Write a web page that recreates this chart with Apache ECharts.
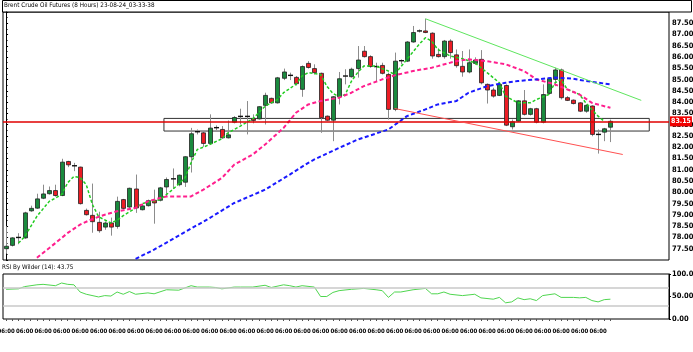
<!DOCTYPE html>
<html><head><meta charset="utf-8">
<script src="https://cdn.jsdelivr.net/npm/echarts@6/dist/echarts.min.js"></script>
<style>html,body{margin:0;padding:0;background:#fff}#c{width:693px;height:352px}</style>
</head><body><div id="c"></div>
<script>
// ---- data ----
const titleText = 'Brent Crude Oil Futures (8 Hours) 23-08-24_03-33-38';
const rsiTitle = 'RSI By Wilder (14): 43.75';
const lastPrice = 83.15;
const slotTimes = ['06:00', '14:00', '22:00'];
const slotCount = 108;

const opens = [77.50,77.65,77.97,77.98,79.18,79.30,79.74,79.94,80.08,79.86, 81.37,81.18,81.12,79.20,78.98,78.67,78.46,78.64,78.49,79.68, 79.35,80.15,79.23,79.41,79.65,79.65,80.24,80.60,80.34,80.45, 81.58,82.67,82.64,82.17,82.85,82.79,82.42,83.11,83.37,83.35, 83.26,83.26,83.86,84.17,83.97,85.06,85.19,85.10,84.57,85.72, 85.49,85.28,83.38,83.20,84.24,85.14,85.13,85.49,86.26,86.02, 85.58,85.63,85.23,83.68,85.82,85.82,86.67,87.16,87.16,87.06, 86.12,86.02,86.71,86.10,85.59,85.34,85.72,85.90,84.79,84.54, 84.30,84.74,82.91,83.16,84.06,83.46,83.71,83.11,84.39,85.01, 85.43,84.20,84.09,83.97,83.60,83.83,82.57,82.67,82.89];
const closes = [77.61,77.98,78.00,79.09,79.29,79.71,79.93,80.08,79.86,81.34, 81.22,81.16,79.50,79.01,78.70,78.30,78.64,78.46,79.60,79.29, 80.18,79.31,79.40,79.63,79.53,80.20,80.57,80.59,80.76,81.58, 82.60,82.69,82.17,82.85,82.87,82.42,82.55,83.32,83.35,83.37, 83.19,83.80,84.30,83.97,85.08,85.34,85.18,84.82,85.58,85.54, 85.31,83.31,83.20,84.24,85.04,85.16,85.46,85.87,86.02,85.58, 85.56,85.28,83.68,85.82,85.84,86.67,87.09,87.14,87.09,86.05, 86.02,86.71,86.20,85.62,85.34,85.75,85.87,84.86,84.54,84.27, 84.79,82.98,83.13,84.06,83.46,83.71,83.11,84.34,85.04,85.43, 84.20,84.08,83.94,83.60,83.86,82.57,82.55,82.82,83.15];
const highs = [78.50,78.01,78.19,79.14,79.41,79.94,80.34,80.26,80.34,81.49, 81.40,81.31,81.14,79.28,80.39,79.14,78.71,78.88,79.81,79.71, 80.21,80.79,79.46,79.68,80.12,80.24,80.66,81.06,80.79,81.60, 82.86,82.79,82.71,83.46,82.97,82.94,83.19,83.38,83.71,84.05, 83.46,83.82,84.42,84.20,85.12,85.49,85.31,85.16,85.63,85.82, 85.68,85.31,83.41,84.27,85.34,85.46,85.53,86.49,86.49,86.08, 85.75,85.75,85.31,86.20,85.90,86.71,87.38,87.23,87.70,87.10, 86.39,86.76,86.79,86.34,86.27,86.34,85.99,86.31,84.83,84.64, 84.86,84.79,83.23,84.09,84.54,83.75,83.75,84.79,85.09,85.53, 85.49,84.27,84.12,84.00,83.90,83.86,82.79,82.86,83.23];
const lows = [77.28,77.60,77.70,77.94,79.14,79.27,79.70,79.90,79.81,79.83, 81.12,80.94,79.46,78.97,78.21,78.21,78.34,78.08,78.39,79.26, 79.31,79.09,79.20,79.37,78.61,79.60,79.82,80.15,80.27,80.24, 80.88,82.57,82.02,82.12,82.76,82.38,82.39,83.06,83.01,82.57, 83.06,83.23,83.01,83.94,83.94,84.98,84.98,84.74,84.24,85.49, 85.23,82.64,83.16,82.27,83.90,84.79,85.09,85.09,85.98,85.53, 84.94,85.23,83.23,83.60,85.68,85.78,86.64,87.09,87.06,85.93, 85.98,85.93,85.93,85.53,85.13,85.28,85.66,84.79,83.94,84.20, 84.27,82.94,82.79,83.12,83.41,83.41,83.06,83.06,84.34,84.71, 84.12,84.05,83.90,83.56,83.53,82.49,81.72,82.27,82.23];

// moving averages read at sample candles: [candle index, price]
const maFast = [[2,77.75],[3,78.03],[5,78.94],[7,79.60],[9,79.90],[10,80.43],[11,80.71],[12,80.66],[13,80.34],[14,79.46],[15,78.92],[17,78.64],[18,78.76],[19,78.97],[21,79.30],[22,79.50],[25,79.68],[27,80.12],[29,80.64],[30,81.31],[31,81.90],[33,82.12],[35,82.38],[36,82.64],[38,82.94],[40,83.26],[42,83.82],[44,84.12],[45,84.42],[47,84.79],[48,85.16],[49,85.31],[51,85.23],[52,84.71],[53,84.39],[54,84.24],[55,84.34],[56,84.93],[57,85.31],[58,85.60],[60,85.60],[62,85.38],[63,85.23],[65,85.90],[67,86.57],[68,86.86],[69,86.71],[70,86.34],[72,86.05],[74,85.93],[76,85.75],[78,85.31],[80,84.86],[81,84.27],[83,83.97],[85,83.97],[86,84.12],[88,84.34],[89,84.86],[90,85.01],[91,84.57],[93,84.34],[94,83.97],[96,83.38],[97,83.15]];
const maMid = [[5,77.10],[7,77.53],[10,78.20],[12,78.57],[14,78.82],[16,79.01],[18,79.16],[21,79.31],[23,79.60],[26,79.82],[30,79.82],[32,80.12],[35,80.64],[37,81.23],[40,81.68],[42,82.12],[45,82.86],[47,83.53],[49,83.90],[51,84.05],[54,84.20],[56,84.42],[58,84.71],[61,85.01],[63,85.19],[66,85.38],[69,85.53],[70,85.60],[73,85.82],[75,85.90],[78,85.82],[81,85.68],[84,85.38],[86,85.01],[89,84.79],[91,84.57],[93,84.34],[95,83.97],[98,83.75]];
const maSlow = [[21,77.05],[24,77.46],[33,78.86],[37,79.53],[42,80.12],[46,80.79],[49,81.31],[50,81.46],[54,81.97],[57,82.34],[62,82.79],[65,83.38],[68,83.68],[70,83.90],[73,84.05],[75,84.42],[78,84.71],[81,84.86],[83,84.94],[86,85.01],[89,85.09],[92,85.04],[94,84.94],[98,84.79]];

// trend lines and zone: [candle position, price]
const upperTrend = [[68,87.70],[103,84.08]];
const lowerTrend = [[63,83.72],[100,81.68]];
const zoneX = [25.6, 104.3];
const zoneY = [82.72, 83.28];

// RSI readings: [candle index, value]
const rsi = [[0,66],[2,67],[3,72],[5,76],[6,77],[8,74],[9,80],[10,77],[11,76],[12,60],[13,55],[15,49],[16,52],[17,51],[18,60],[19,55],[20,61],[21,55],[23,58],[24,56],[26,65],[28,64],[29,69],[30,74],[31,71],[33,71],[34,70],[35,67],[37,71],[38,71],[40,71],[42,75],[43,70],[45,76],[46,74],[47,71],[48,74],[50,71],[51,50],[52,50],[53,59],[54,63],[56,66],[58,68],[60,65],[61,63],[62,48],[63,60],[64,60],[66,65],[68,68],[69,56],[70,56],[71,60],[72,55],[74,52],[76,55],[77,47],[79,44],[80,48],[81,36],[82,38],[83,47],[84,43],[85,45],[86,41],[87,52],[89,56],[90,48],[92,48],[93,47],[94,48],[95,41],[96,38],[97,43],[98,44]];

// ---- build ----
const categories = [];
for (let i = 0; i < slotCount; i++) categories.push(slotTimes[i % 3]);
const nCandles = closes.length;
const candleData = closes.map((c, i) => [i, opens[i], c, lows[i], highs[i]]);
const zonePoly = [[zoneX[0], zoneY[1]], [zoneX[1], zoneY[1]], [zoneX[1], zoneY[0]], [zoneX[0], zoneY[0]], [zoneX[0], zoneY[1]]];

const FONT = '"Liberation Sans Narrow","DejaVu Sans Condensed","Liberation Sans",sans-serif';

function renderCandle(params, api) {
  const i = api.value(0), o = api.value(1), c = api.value(2), l = api.value(3), h = api.value(4);
  const pO = api.coord([i, o]), pC = api.coord([i, c]), pL = api.coord([i, l]), pH = api.coord([i, h]);
  const x = Math.round(pO[0]) + 0.5;
  const top = Math.min(pO[1], pC[1]), bot = Math.max(pO[1], pC[1]);
  const up = c >= o;
  const ch = [{ type: 'line', shape: { x1: x, y1: pH[1], x2: x, y2: pL[1] }, style: { stroke: '#8c8c8c', lineWidth: 1 } }];
  if (bot - top < 1.5) {
    ch.push({ type: 'line', shape: { x1: x - 2.5, y1: top, x2: x + 2.5, y2: top }, style: { stroke: '#111', lineWidth: 1.4 } });
  } else {
    ch.push({ type: 'rect', shape: { x: x - 2, y: top, width: 4, height: bot - top },
      style: { fill: up ? '#1a8a3e' : '#ec1c24', stroke: '#222', lineWidth: 0.8 } });
  }
  return { type: 'group', children: ch };
}

const chart = echarts.init(document.getElementById('c'), null, { renderer: 'canvas' });
chart.setOption({
  animation: false,
  backgroundColor: '#fff',
  grid: [
    { left: 3, right: 24, top: 12, height: 248, show: true, borderColor: '#000', borderWidth: 1, outerBoundsMode: 'none' },
    { left: 3, right: 24, top: 274, height: 45, show: true, borderColor: '#000', borderWidth: 1, outerBoundsMode: 'none' }
  ],
  xAxis: [
    { type: 'category', gridIndex: 0, data: categories, boundaryGap: true, show: false },
    { type: 'value', gridIndex: 0, min: -0.5, max: slotCount - 0.5, show: false },
    { type: 'category', gridIndex: 1, data: categories, boundaryGap: true,
      axisLine: { show: false },
      axisTick: { show: true, alignWithLabel: true, length: 2, interval: (idx) => idx < nCandles, lineStyle: { color: '#555' } },
      axisLabel: { interval: (idx) => idx % 3 === 0 && idx < nCandles - 1, hideOverlap: false, fontSize: 6, fontWeight: 'bold', fontFamily: FONT, color: '#000', margin: 9 },
      splitLine: { show: false } }
  ],
  yAxis: [
    { type: 'value', gridIndex: 0, position: 'right', min: 77, max: 88, interval: 0.5,
      axisLine: { show: true, lineStyle: { color: '#000' } },
      axisTick: { show: true, length: 2, lineStyle: { color: '#000' } },
      minorTick: { show: true, splitNumber: 2, length: 1.5, lineStyle: { color: '#000' } },
      splitLine: { show: false },
      axisLabel: { showMinLabel: false, showMaxLabel: false, formatter: (v) => v.toFixed(2), fontSize: 7.5, fontWeight: 'bold', fontFamily: FONT, color: '#000', margin: 3 } },
    { type: 'value', gridIndex: 1, position: 'right', min: 0, max: 100, interval: 50,
      axisLine: { show: true, lineStyle: { color: '#000' } },
      axisTick: { show: true, length: 2, lineStyle: { color: '#000' } },
      splitLine: { show: false },
      axisLabel: { formatter: (v) => v.toFixed(2), fontSize: 7.5, fontWeight: 'bold', fontFamily: FONT, color: '#000', margin: 3 } }
  ],
  graphic: [
    { type: 'rect', shape: { x: 2.5, y: 0.5, width: 689, height: 11.5 }, style: { fill: '#fff', stroke: '#000', lineWidth: 1 } },
    { type: 'text', left: 4, top: 2.5, style: { text: titleText, fontSize: 6.3, fontFamily: FONT, fill: '#000' } },
    { type: 'text', left: 2, top: 264, style: { text: rsiTitle, fontSize: 6.3, fontFamily: FONT, fill: '#000' } }
  ],
  series: [
    { type: 'line', xAxisIndex: 1, yAxisIndex: 0, data: zonePoly, symbol: 'none', silent: true,
      lineStyle: { color: '#333', width: 1 }, z: 1 },
    { type: 'custom', xAxisIndex: 0, yAxisIndex: 0, data: candleData, renderItem: renderCandle,
      encode: { x: 0, y: [1, 2, 3, 4] }, z: 3,
      markLine: { silent: true, symbol: 'none', animation: false,
        lineStyle: { color: '#e00000', width: 1.5, type: 'solid' },
        label: { show: true, position: 'end', distance: 1, formatter: () => lastPrice.toFixed(2), backgroundColor: '#f00000', color: '#fff',
          fontSize: 7, fontWeight: 'bold', fontFamily: FONT, padding: [2, 1, 1, 1] },
        data: [{ yAxis: lastPrice }] } },
    { type: 'line', xAxisIndex: 0, yAxisIndex: 0, data: maFast, symbol: 'none', silent: true, z: 4,
      lineStyle: { color: '#22cc22', width: 1.5, type: [3, 2] } },
    { type: 'line', xAxisIndex: 0, yAxisIndex: 0, data: maMid, symbol: 'none', silent: true, z: 4,
      lineStyle: { color: '#ff1f8e', width: 2, type: [4, 2.5] } },
    { type: 'line', xAxisIndex: 0, yAxisIndex: 0, data: maSlow, symbol: 'none', silent: true, z: 4,
      lineStyle: { color: '#1a1aff', width: 2, type: [4, 2.5] } },
    { type: 'line', xAxisIndex: 1, yAxisIndex: 0, data: upperTrend, symbol: 'none', silent: true, z: 5,
      lineStyle: { color: '#5ee65e', width: 1 } },
    { type: 'line', xAxisIndex: 1, yAxisIndex: 0, data: lowerTrend, symbol: 'none', silent: true, z: 5,
      lineStyle: { color: '#ff5050', width: 1 } },
    { type: 'line', xAxisIndex: 2, yAxisIndex: 1, data: rsi, symbol: 'none', silent: true,
      lineStyle: { color: '#4fd64f', width: 1 },
      markLine: { silent: true, symbol: 'none', animation: false, label: { show: false },
        lineStyle: { color: '#c8c8c8', width: 1.5, type: 'solid' },
        data: [{ yAxis: 70 }, { yAxis: 30 }] } }
  ]
});
</script>
</body></html>
